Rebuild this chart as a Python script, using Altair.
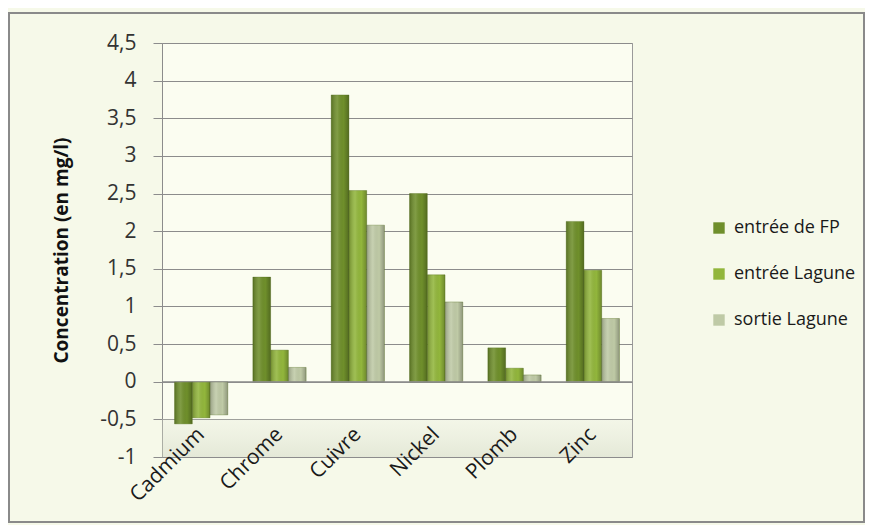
import altair as alt
import pandas as pd

metals = ["Cadmium", "Chrome", "Cuivre", "Nickel", "Plomb", "Zinc"]
series = ["entrée de FP", "entrée Lagune", "sortie Lagune"]
entree_fp = [-0.56, 1.39, 3.81, 2.50, 0.45, 2.13]
entree_lagune = [-0.48, 0.42, 2.54, 1.42, 0.18, 1.48]
sortie_lagune = [-0.44, 0.19, 2.08, 1.06, 0.09, 0.84]
colors = ["#6f8f2b", "#92b63c", "#bfcaa6"]
y_ticks = [-1, -0.5, 0, 0.5, 1, 1.5, 2, 2.5, 3, 3.5, 4, 4.5]

rows = []
for s, vals in zip(series, [entree_fp, entree_lagune, sortie_lagune]):
    for m, v in zip(metals, vals):
        rows.append({"metal": m, "serie": s, "valeur": v})
df = pd.DataFrame(rows)

W, H = 470, 414
PAD = {"left": 154, "top": 35, "right": 233, "bottom": 68}

x_axis = alt.Axis(labelAngle=-45, labelAlign="right", labelBaseline="middle",
                  labelFontSize=21, labelColor="#1a1a1a",
                  labelFont="Open Sans", ticks=False, domain=False,
                  labelPadding=-26, grid=False, labelOverlap=False, zindex=2)
y_axis = alt.Axis(values=y_ticks,
                  labelExpr="replace(replace(format(datum.value, '.1~f'), '.', ','), '\u2212', '-')",
                  labelFontSize=21, labelColor="#333333", labelFont="Open Sans",
                  titleFontSize=19, titleFont="Open Sans", titleFontWeight="bold",
                  titleColor="#111111", titlePadding=28,
                  gridColor="#8c8c8c", gridWidth=1, domainColor="#8c8c8c",
                  tickColor="#8c8c8c", tickSize=9, labelPadding=17, labelOverlap=False)
x_scale = alt.Scale(paddingInner=0.32, paddingOuter=0.16)
y_scale = alt.Scale(domain=[-1, 4.5], nice=False)
Y_TITLE = "Concentration (en mg/l)"

x = alt.X("metal:N", sort=metals, title=None, scale=x_scale, axis=x_axis)
y = alt.Y("valeur:Q", title=Y_TITLE, scale=y_scale, axis=y_axis)

bars = alt.Chart(df).mark_bar(stroke="#55701c", strokeWidth=0.6, strokeOpacity=0.6).encode(
    x=x, y=y, y2=alt.datum(0),
    xOffset=alt.XOffset("serie:N", sort=series),
    color=alt.Color("serie:N", sort=series,
                    scale=alt.Scale(domain=series, range=colors),
                    legend=alt.Legend(title=None, orient="none", legendX=548, legendY=176,
                                      symbolType="square", symbolSize=130,
                                      symbolStrokeWidth=0, labelFontSize=18,
                                      labelFont="Open Sans", labelColor="#1a1a1a",
                                      rowPadding=28, labelOffset=6)),
)

shade = alt.Chart(df).mark_bar(
    fill=alt.Gradient(gradient="linear", x1=0, y1=0, x2=1, y2=0,
                      stops=[alt.GradientStop(offset=0, color="rgba(0,0,0,0.22)"),
                             alt.GradientStop(offset=0.35, color="rgba(255,255,255,0.12)"),
                             alt.GradientStop(offset=0.7, color="rgba(0,0,0,0.0)"),
                             alt.GradientStop(offset=1, color="rgba(0,0,0,0.25)")])
).encode(
    x=x, y=y, y2=alt.datum(0),
    xOffset=alt.XOffset("serie:N", sort=series),
)

floor = alt.Chart(pd.DataFrame({"valeur": [-1]})).mark_rect(
    fill=alt.Gradient(gradient="linear", x1=0, y1=0, x2=0, y2=1,
                      stops=[alt.GradientStop(offset=0, color="rgba(225,230,210,0.3)"),
                             alt.GradientStop(offset=1, color="rgba(205,212,190,0.5)")])
).encode(y=y, y2=alt.datum(-0.5), x=alt.value(0), x2=alt.value(W))

frame = alt.Chart(pd.DataFrame({"a": [0]})).mark_rect(
    filled=False, stroke="#8a8a8a", strokeWidth=2
).encode(x=alt.value(-PAD["left"] + 1), x2=alt.value(W + PAD["right"] - 1),
         y=alt.value(-PAD["top"] + 5), y2=alt.value(H + PAD["bottom"] - 3))

zero = alt.Chart(pd.DataFrame({"valeur": [0]})).mark_rule(color="#8c8c8c").encode(y=y)

chart = alt.layer(floor, bars, shade, zero, frame).properties(
    width=W, height=H, padding=PAD,
    autosize=alt.AutoSizeParams(type="none"),
    background="#f6f9e9",
).configure_view(stroke="#9a9a9a", fill="#fbfdf1")

chart.save("out.html", embed_options={"renderer": "svg", "actions": False})
